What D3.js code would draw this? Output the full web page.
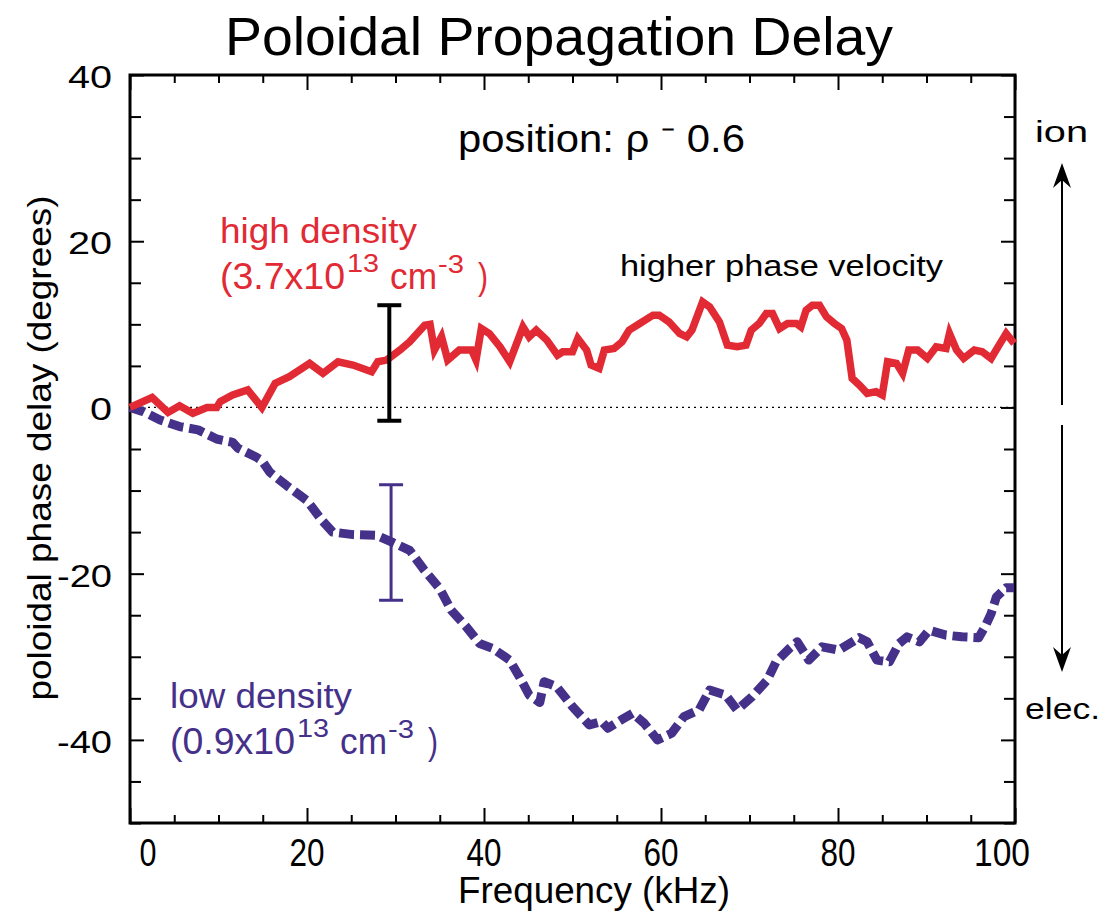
<!DOCTYPE html>
<html>
<head>
<meta charset="utf-8">
<script src="https://cdn.jsdelivr.net/npm/d3@7"></script>
<style>
  html, body { margin: 0; padding: 0; background: #fff; }
  svg { display: block; }
  text { font-family: "Liberation Sans", Arial, Helvetica, sans-serif; }
</style>
</head>
<body>
<svg id="chart" width="1101" height="913"></svg>
<script>
// ---------------- data ----------------
const highF = [0,2.5,4.3,5.6,7.1,8.7,9.8,10.2,11.6,13.3,14.9,16.4,18,20.3,21.8,23.5,25.2,27.3,28,29,30.5,31.6,33.3,33.9,34.4,35.2,35.9,37.2,38.6,39.1,39.7,40.6,41.8,42.9,44.4,45.1,45.9,47.1,48.3,48.9,50,50.6,51.6,52.1,53,53.6,54.7,55.6,56.4,57.6,59.1,59.8,60.9,62.1,62.9,63.5,64.7,65.5,66.6,67.5,68.6,69.6,70.2,71.1,71.9,72.6,73.4,74.3,75.3,75.8,76.4,77.1,77.9,78.7,79.6,80.4,81,81.6,82.4,83.3,84.3,85,85.6,86.6,87.3,88,89,90.1,91.1,92.2,92.6,93.4,94.2,95.4,96.3,97.3,98.2,99,99.9];
const highV = [0,1.2,-0.6,0.2,-0.7,0,0,0.7,1.5,2.1,0,2.9,3.7,5.3,4.1,5.5,5.1,4.3,5.5,5.7,6.9,7.9,9.9,10.0,6.9,8.5,5.7,6.9,6.9,5.7,9.5,8.9,7.3,5.5,9.7,8.5,9.3,8.1,6.3,6.7,6.7,8.3,6.9,5.1,4.7,6.9,7.1,7.9,9.3,10.1,11.1,11.1,10.3,8.9,8.5,9.3,12.7,12.1,10.3,7.5,7.3,7.5,9.3,10.1,11.3,11.3,9.5,10.1,10.1,9.7,11.7,12.3,12.3,10.9,10.1,9.5,8.1,3.5,2.7,1.7,1.9,1.5,5.5,5.3,4.1,6.9,6.9,5.9,7.3,7.1,8.9,6.9,5.9,6.9,6.7,5.9,7.5,8.9,7.7];

const lowF = [0,1.5,3.4,5.6,7.7,9.8,11.6,12.2,14.3,14.9,15.8,17.7,20,21.7,22.9,25.2,27.9,29.6,31.6,33.2,35,36.3,38,39.5,41,42.9,44,45.1,46.3,46.8,48.2,50,51.9,53.3,54,55.5,56.8,58.1,59.6,61.2,62.6,64.3,65.5,67.3,68.6,70.3,72,73,74.5,75.4,76.7,78.2,80.1,82.4,83.3,84.4,85.8,86.9,87.8,89.2,90.3,92.2,94,95.9,96.7,97.3,97.9,99,99.9];
const lowV = [0,-0.5,-1.5,-2.3,-2.7,-3.8,-4.2,-4.9,-6,-6.4,-7.8,-9.4,-11.2,-13.6,-15,-15.3,-15.4,-16.2,-17.2,-19.5,-21.8,-24.4,-26.4,-28.4,-29,-30.4,-32.4,-34.6,-35.5,-33,-33.6,-36,-38.2,-37.8,-38.6,-37.6,-36.8,-38,-40,-39.2,-37.2,-36.4,-34,-34.6,-36.4,-34.8,-32.8,-30.6,-29,-28.2,-30.4,-28.8,-29.2,-27.7,-28.2,-30.4,-30.6,-28.4,-27.6,-28.2,-26.8,-27.4,-27.6,-27.7,-26.2,-24.8,-22.8,-21.7,-21.7];

// error bars: [frequency, low, high]
const highErr = [29.3, -1.6, 12.3];
const lowErr = [29.5, -23.2, -9.3];

const xMajorTicks = [0, 20, 40, 60, 80, 100];
const yMajorTicks = [40, 20, 0, -20, -40];
const xDomain = [0, 100];
const yDomain = [-50, 40];

// ---------------- layout ----------------
const RED = "#e12a33";
const PURPLE = "#45308a";
const svg = d3.select("#chart");
const L = 130, R = 1015, T = 75, B = 823;

const x = d3.scaleLinear().domain(xDomain).range([L, R]);
const y = d3.scaleLinear().domain(yDomain).range([B, T]);

// zero dotted line
svg.append("line")
  .attr("x1", x(0)).attr("x2", R).attr("y1", y(0)).attr("y2", y(0))
  .attr("stroke", "#000").attr("stroke-width", 1.2).attr("stroke-dasharray", "2,4");

// frame & ticks
const frame = svg.append("g");
const xMinor = d3.range(0, 100.01, 5);
const yMinor = d3.range(-50, 40.01, 5);

const gx = frame.append("g").attr("transform", `translate(0,${B})`)
  .call(d3.axisBottom(x).tickValues(xMinor).tickSize(0).tickFormat(""));
gx.select(".domain").remove();
gx.selectAll(".tick").append("line")
  .attr("y1", 0).attr("y2", d => xMajorTicks.includes(d) ? -15 : -8)
  .attr("stroke", "#000").attr("stroke-width", 2);
const gxt = frame.append("g").attr("transform", `translate(0,${T})`)
  .call(d3.axisTop(x).tickValues(xMinor).tickSize(0).tickFormat(""));
gxt.select(".domain").remove();
gxt.selectAll(".tick").append("line")
  .attr("y1", 0).attr("y2", d => xMajorTicks.includes(d) ? 15 : 8)
  .attr("stroke", "#000").attr("stroke-width", 2);
const gy = frame.append("g").attr("transform", `translate(${L},0)`)
  .call(d3.axisLeft(y).tickValues(yMinor).tickSize(0).tickFormat(""));
gy.select(".domain").remove();
gy.selectAll(".tick").append("line")
  .attr("x1", 0).attr("x2", d => yMajorTicks.includes(d) ? 14 : 11)
  .attr("stroke", "#000").attr("stroke-width", 2);
const gyr = frame.append("g").attr("transform", `translate(${R},0)`)
  .call(d3.axisRight(y).tickValues(yMinor).tickSize(0).tickFormat(""));
gyr.select(".domain").remove();
gyr.selectAll(".tick").append("line")
  .attr("x1", 0).attr("x2", d => yMajorTicks.includes(d) ? -14 : -11)
  .attr("stroke", "#000").attr("stroke-width", 2);

frame.append("rect").attr("x", L).attr("y", T).attr("width", R - L).attr("height", B - T)
  .attr("fill", "none").attr("stroke", "#000").attr("stroke-width", 3);

// x tick labels
const xLabelShift = {0: 18, 100: -13};
const xLabelLen = {0: 17, 100: 56};
svg.append("g").selectAll("text").data(xMajorTicks).join("text")
  .attr("x", d => x(d) + (xLabelShift[d] || 0))
  .attr("y", 866)
  .attr("text-anchor", "middle")
  .attr("font-size", 38)
  .attr("textLength", d => xLabelLen[d] || 35)
  .attr("lengthAdjust", "spacingAndGlyphs")
  .text(d => d);

// y tick labels
const yLabelLen = {40: 44, 20: 44, 0: 22, "-20": 55, "-40": 55};
svg.append("g").selectAll("text").data(yMajorTicks).join("text")
  .attr("x", 112)
  .attr("y", d => y(d) + 13)
  .attr("text-anchor", "end")
  .attr("font-size", 31)
  .attr("textLength", d => yLabelLen[d])
  .attr("lengthAdjust", "spacingAndGlyphs")
  .text(d => d);

// axis titles
svg.append("text").attr("x", 594).attr("y", 903).attr("text-anchor", "middle")
  .attr("font-size", 37).attr("textLength", 272).attr("lengthAdjust", "spacingAndGlyphs")
  .text("Frequency (kHz)");
svg.append("text").attr("transform", "translate(51,448) rotate(-90)").attr("text-anchor", "middle")
  .attr("font-size", 34).attr("textLength", 505).attr("lengthAdjust", "spacingAndGlyphs")
  .text("poloidal phase delay (degrees)");

// title
svg.append("text").attr("x", 225).attr("y", 55)
  .attr("font-size", 53).attr("textLength", 668).attr("lengthAdjust", "spacingAndGlyphs")
  .text("Poloidal Propagation Delay");

// lines
const line = d3.line().x(d => x(d[0])).y(d => y(d[1]));
svg.append("path").datum(lowF.map((f, i) => [f, lowV[i]]))
  .attr("d", line).attr("fill", "none").attr("stroke", PURPLE)
  .attr("stroke-width", 9).attr("stroke-dasharray", "15,6").attr("stroke-linejoin", "round");
svg.append("path").datum(highF.map((f, i) => [f, highV[i]]))
  .attr("d", line).attr("fill", "none").attr("stroke", RED)
  .attr("stroke-width", 7.5).attr("stroke-linejoin", "miter");

// error bars
function errBar(e, color, w) {
  const g = svg.append("g").attr("stroke", color).attr("stroke-width", w);
  const cx = x(e[0]);
  g.append("line").attr("x1", cx).attr("x2", cx).attr("y1", y(e[1])).attr("y2", y(e[2]));
  g.append("line").attr("x1", cx - 12).attr("x2", cx + 12).attr("y1", y(e[1])).attr("y2", y(e[1]));
  g.append("line").attr("x1", cx - 12).attr("x2", cx + 12).attr("y1", y(e[2])).attr("y2", y(e[2]));
}
errBar(highErr, "#000", 4);
errBar(lowErr, PURPLE, 3);

// annotations
svg.append("text").attr("x", 458).attr("y", 152).attr("font-size", 38)
  .attr("textLength", 287).attr("lengthAdjust", "spacingAndGlyphs")
  .text("position: \u03C1 \u207B 0.6");

svg.append("text").attr("x", 620).attr("y", 276).attr("font-size", 30)
  .attr("textLength", 323).attr("lengthAdjust", "spacingAndGlyphs")
  .text("higher phase velocity");

function densityLabel(x0, y0, name, w, val, color) {
  svg.append("text").attr("x", x0).attr("y", y0).attr("font-size", 35).attr("fill", color)
    .attr("textLength", w).attr("lengthAdjust", "spacingAndGlyphs").text(name);
  const yb = y0 + 46;
  const g = svg.append("g").attr("fill", color);
  const piece = (dx, dy, size, len, s) => g.append("text")
    .attr("x", x0 + dx).attr("y", yb + dy).attr("font-size", size)
    .attr("textLength", len).attr("lengthAdjust", "spacingAndGlyphs").text(s);
  piece(0, 0, 37, 125, "(" + val + "x10");
  piece(127, -17, 26, 32, "13");
  piece(170, 0, 37, 47, "cm");
  piece(218, -16, 26, 26, "-3");
  piece(258, 0, 37, 10, ")");
}
densityLabel(220, 243, "high density", 197, "3.7", RED);
densityLabel(170, 708, "low density", 182, "0.9", PURPLE);

// ion / elec arrows
svg.append("text").attr("x", 1035).attr("y", 142).attr("font-size", 30)
  .attr("textLength", 53).attr("lengthAdjust", "spacingAndGlyphs").text("ion");
svg.append("text").attr("x", 1025).attr("y", 719).attr("font-size", 30)
  .attr("textLength", 75).attr("lengthAdjust", "spacingAndGlyphs").text("elec.");
const ax = 1062;
svg.append("line").attr("x1", ax).attr("x2", ax).attr("y1", 405).attr("y2", 175)
  .attr("stroke", "#000").attr("stroke-width", 2);
svg.append("path").attr("d", `M${ax},163 L${ax - 9},188 L${ax},180 L${ax + 9},188 Z`).attr("fill", "#000");
svg.append("line").attr("x1", ax).attr("x2", ax).attr("y1", 425).attr("y2", 660)
  .attr("stroke", "#000").attr("stroke-width", 2);
svg.append("path").attr("d", `M${ax},672 L${ax - 9},647 L${ax},655 L${ax + 9},647 Z`).attr("fill", "#000");
</script>
</body>
</html>
